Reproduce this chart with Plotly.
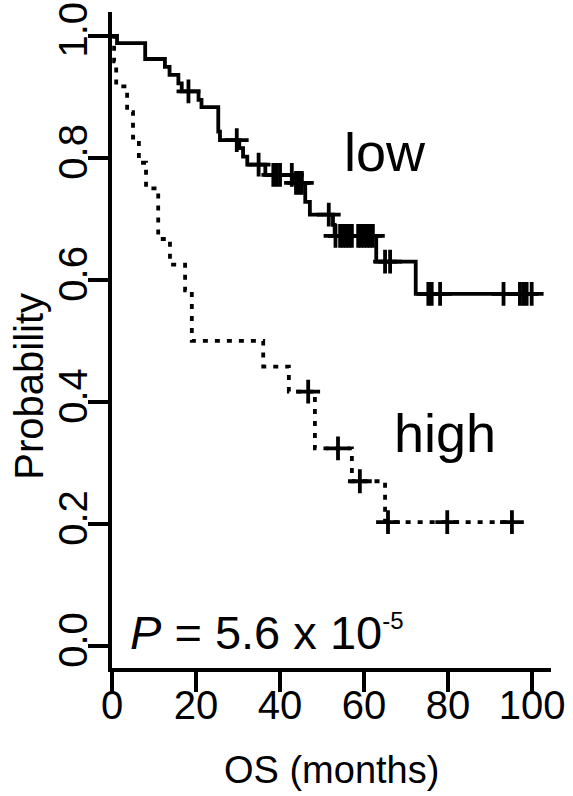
import plotly.graph_objects as go

# ---- data ----
# "low" group: step times (months) and survival after each step
low_step_t = [0, 1.2, 7.9, 12.6, 13.7, 15.8, 16.6, 20.6, 21.3, 25.3, 25.7, 30.3, 31.2,
              32.2, 36.5, 43.2, 46.0, 47.1, 52.6, 53.0, 62.9, 72.3]
low_step_s = [1.0, 0.988, 0.962, 0.949, 0.936, 0.922, 0.909, 0.895, 0.883, 0.843, 0.829,
              0.816, 0.802, 0.789, 0.772, 0.759, 0.728, 0.707, 0.69, 0.672, 0.63, 0.577]
low_censor_t = [18.2, 29.7, 34.9, 38.4, 39.2, 40.0, 42.8, 43.8, 44.5, 45.2, 51.6, 53.2,
                54.3, 55.0, 55.7, 56.4, 57.1, 58.6, 59.3, 60.0, 60.7, 61.4, 62.1, 65.0,
                66.2, 75.3, 76.1, 78.1, 93.2, 97.1, 97.9, 98.7, 99.9]
low_end = 99.9

# "high" group
high_step_t = [0, 0.5, 1.0, 3.6, 5.0, 6.4, 8.1, 11.0, 13.8, 17.4, 19.0, 36.0, 42.1,
               48.3, 57.1, 65.0]
high_step_s = [1.0, 0.958, 0.917, 0.875, 0.833, 0.792, 0.75, 0.667, 0.625, 0.583, 0.5,
               0.458, 0.417, 0.324, 0.27, 0.203]
high_censor_t = [46.7, 53.8, 59.0, 65.7, 79.8, 95.2]
high_end = 95.2

x_ticks = [0, 20, 40, 60, 80, 100]
y_ticks = [0.0, 0.2, 0.4, 0.6, 0.8, 1.0]
y_ticktext = ["0.0", "0.2", "0.4", "0.6", "0.8", "1.0"]


def surv_at(t, ts, ss):
    val = ss[0]
    for ti, si in zip(ts, ss):
        if ti <= t:
            val = si
    return val


FONT = "Liberation Sans, Arial, sans-serif"
LW = 3.8

fig = go.Figure()

for ts, ss, end, cens, dash in [
    (low_step_t, low_step_s, low_end, low_censor_t, "solid"),
    (high_step_t, high_step_s, high_end, high_censor_t, "5px,7px"),
]:
    fig.add_trace(go.Scatter(
        x=ts + [end], y=ss + [ss[-1]], mode="lines",
        line=dict(shape="hv", color="black", width=LW, dash=dash),
        hoverinfo="skip", showlegend=False,
    ))
    fig.add_trace(go.Scatter(
        x=cens, y=[surv_at(c, ts, ss) for c in cens], mode="markers",
        marker=dict(symbol="cross-thin", size=17, color="black",
                    line=dict(color="black", width=LW)),
        hoverinfo="skip", showlegend=False,
    ))

fig.add_annotation(x=65, y=0.809, xref="x", yref="y", text="low", showarrow=False,
                   font=dict(family=FONT, size=54, color="black"),
                   xanchor="center", yanchor="middle")
fig.add_annotation(x=79.3, y=0.349, xref="x", yref="y", text="high", showarrow=False,
                   font=dict(family=FONT, size=54, color="black"),
                   xanchor="center", yanchor="middle")
fig.add_annotation(x=3.8, y=0.022, xref="x", yref="y",
                   text='<i>P</i> = 5.6 x 10<sup><span style="font-size:24px">-5</span></sup>',
                   showarrow=False,
                   font=dict(family=FONT, size=47, color="black"),
                   xanchor="left", yanchor="middle")
fig.add_annotation(x=-0.19, y=0.426, xref="paper", yref="y", text="Probability",
                   textangle=-90, showarrow=False,
                   font=dict(family=FONT, size=40, color="black"),
                   xanchor="center", yanchor="middle")
fig.add_annotation(x=0.5, y=-0.155, xref="paper", yref="paper", text="OS (months)",
                   showarrow=False,
                   font=dict(family=FONT, size=38, color="black"),
                   xanchor="center", yanchor="middle")

fig.update_layout(
    width=573, height=796, autosize=False,
    margin=dict(l=112, r=22, t=12, b=128),
    paper_bgcolor="white", plot_bgcolor="white",
    xaxis=dict(range=[0, 104.5], tickvals=x_ticks, showline=True, linewidth=LW,
               linecolor="black", ticks="outside", ticklen=20, tickwidth=LW,
               tickcolor="black", showgrid=False, zeroline=False, automargin=False,
               ticklabelstandoff=-21, ticklabeloverflow="allow",
               tickfont=dict(family=FONT, size=40, color="black")),
    yaxis=dict(range=[-0.036, 1.039], tickvals=y_ticks, ticktext=y_ticktext,
               tickangle=-90, showline=True, linewidth=LW, linecolor="black",
               ticks="outside", ticklen=20, tickwidth=LW, tickcolor="black",
               showgrid=False, zeroline=False, automargin=False,
               ticklabelstandoff=-15, ticklabeloverflow="allow",
               tickfont=dict(family=FONT, size=40, color="black")),
)

# remove the default 8px page margin so the figure fills the window exactly
fig.write_html("out.html", config={"displayModeBar": False},
               post_script="document.body.style.margin='0';document.body.style.overflow='hidden';")
